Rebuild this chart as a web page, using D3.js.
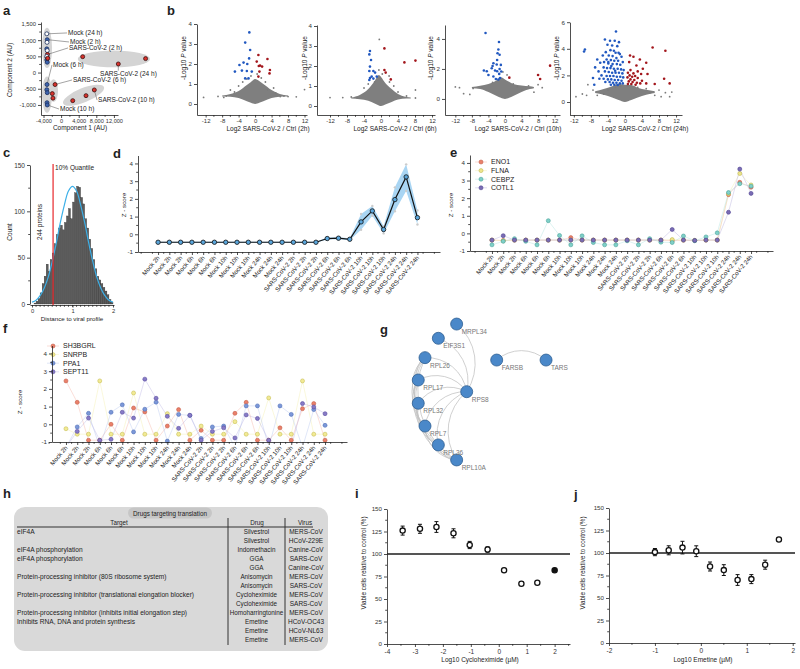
<!DOCTYPE html>
<html>
<head>
  <meta charset="utf-8">
  <style>
    body { margin: 0; background: #fff; }
    svg text { font-family: "Liberation Sans", Arial, sans-serif; fill: #222; }
    .ax path, .ax line { stroke: #222; stroke-width: 0.8; }
    .ax text { fill: #333; }
  </style>
</head>
<body>
<script src="https://cdn.jsdelivr.net/npm/d3@7"></script>
<script>
// ---------------- data ----------------
// a: PCA  [x, y, group]  group 0 = mock filled, 2 = mock open, 1 = SARS-CoV-2
const pcaPts = [
  [-3250,1195,2],[-3150,1015,0],[-3200,932,2],[-3250,731,0],[-3150,679,2],[-3200,472,0],[-3250,392,0],[-3150,318,0],
  [-3100,560,1],[-3250,500,2],[-3050,440,1],
  [-3200,-370,0],[-3250,-530,0],[-3150,-620,0],[-3200,-930,0],[-3150,-1000,0],
  [-1371,-370,1],[-2000,-650,1],[-1850,-790,1],
  [4900,490,1],[13000,265,1],[19200,430,1],
  [2640,-867,1],[5660,-713,1],[7550,-537,1]
];
// [cx, cy, rx, ry, angle]
const pcaEllipses = [
  [-3200,760,1140,620,0],[-3200,-680,1140,560,0],[-1720,-560,1020,350,0],
  [12000,420,8200,260,0],[5100,-700,5000,220,-22]
];
// [text, pointX, pointY, labelX, labelY, (leader end x, y)]
const pcaLabels = [
  ["Mock (24 h)",-3150,1195,1570,1222],
  ["Mock (2 h)",-3150,1015,2020,944],
  ["SARS-CoV-2 (2 h)",-3050,560,1800,760],
  ["SARS-CoV-2 (24 h)",13000,265,8860,-43,13000,60],
  ["Mock (6 h)",-3200,-370,-1840,235],
  ["SARS-CoV-2 (6 h)",-1371,-370,2700,-230],
  ["SARS-CoV-2 (10 h)",7550,-537,8400,-850],
  ["Mock (10 h)",-3150,-1000,-250,-1125]
];

// b: volcano plots  core = [x, lo, hi] dense region
const volTitles = ["Log2 SARS-CoV-2 / Ctrl (2h)","Log2 SARS-CoV-2 / Ctrl (6h)","Log2 SARS-CoV-2 / Ctrl (10h)","Log2 SARS-CoV-2 / Ctrl (24h)"];
const core2h = [[-8,0.38,0.42],[-6,0.36,0.5],[-4,0.3,0.65],[-2,0.14,0.95],[-1,0.06,1.1],[0,0,1.25],[1,0.06,1.15],[2,0.14,1.0],[4,0.3,0.7],[6,0.36,0.5],[8,0.38,0.42]];
const core6h = [[-7,0.38,0.42],[-5,0.34,0.55],[-3,0.26,0.85],[-1.5,0.12,1.25],[-0.5,0.03,1.55],[0,0,1.45],[1,0.07,1.15],[2.5,0.2,0.85],[4,0.32,0.6],[6,0.37,0.45],[7,0.38,0.42]];
const core10h = [[-8,0.72,0.8],[-6,0.66,0.88],[-4,0.46,1.0],[-2,0.2,1.25],[-1,0.08,1.45],[0,0,1.3],[1,0.08,1.15],[2,0.2,1.0],[4,0.46,0.9],[6,0.66,0.84],[7,0.72,0.8]];
const core24h = [[-7,0.68,0.8],[-5,0.55,0.98],[-3,0.33,1.18],[-1.5,0.15,1.38],[0,0,1.3],[1.5,0.15,1.28],[3,0.33,1.08],[5,0.55,0.92],[7,0.68,0.8]];
const gray2h = [[-12.5,0.33],[-7.6,0.33],[-6,0.7],[6.1,0.37],[8,0.37],[12,0.72],[3,0.72],[-4,0.9],[-3,1.1],[4.5,0.8],[2.5,1.1],[-5,0.6],[5,0.55],[-7,0.4],[7,0.4],[-9,0.38],[10,0.36],[1.5,1.3],[-1,1.4],[0.5,1.5],[-2,1.25]];
const gray6h = [[-0.4,3.33],[-12,0.42],[-5.7,0.42],[8.1,0.8],[8.1,0.4],[1.9,1.5],[-4,0.9],[3,1.0],[-3,1.1],[4,0.7],[6,0.5],[-7,0.45],[2,1.2],[-0.5,1.8],[0.3,1.6],[-1.5,1.2],[-9,0.42],[5,0.45]];
const gray10h = [[-7.7,0.7],[-8.5,0.3],[4.1,0.6],[5.7,0.87],[8,0.95],[-3,1.1],[3,0.8],[-5.5,0.8],[2,1.0],[-10,0.35],[7,0.45],[-12,0.8],[-11,0.75],[9,0.75],[0.5,1.6],[-0.5,1.8]];
const gray24h = [[-11.5,0.4],[-8.7,1.3],[-7.5,0.9],[-6.5,0.5],[-5,0.6],[-4,0.9],[8,0.9],[9.5,0.7],[11,0.75],[7,0.5],[6,0.7],[-9,0.5],[5,1.0],[3,1.1],[-1,1.2],[0.5,1.2],[-2.2,1.1],[8.5,0.4],[10.5,0.4],[-10,0.6]];
const blue2h = [[-1.4,3.58],[-2.4,3.07],[-1.2,2.7],[-1.45,2.28],[-2.8,2.07],[-1.9,2.0],[-4.9,1.62],[-3.2,1.67],[-2.0,1.65],[-0.8,1.62],[-2.4,1.28],[-1.6,1.28],[-3.8,1.95]];
const red2h = [[0.8,2.45],[0.4,2.12],[1.2,1.92],[0.9,1.9],[1.7,1.87],[3,2.25],[3.6,1.7],[3.5,1.53],[1.05,1.62],[0.8,1.37]];
const blue6h = [[-2.6,2.75],[-2.75,2.58],[-2.35,2.3],[-2.6,1.97],[-2.75,1.75],[-1.8,1.75],[-1.4,1.67],[-2.2,1.47],[-2.6,1.4],[-1.8,1.37],[-1.0,1.47],[-2.75,1.3]];
const red6h = [[0.8,2.88],[5.5,2.18],[8.1,2.27],[0.8,1.8],[1.1,1.67],[2.3,1.33]];
const blue10h = [[-4.7,4.4],[-1.45,3.8],[-1.8,3.05],[-1.3,2.95],[-2.8,2.38],[-2,2.3],[-1,2.27],[-3.2,2.05],[-5.1,1.9],[-4.4,1.85],[-4,1.6],[-2.4,1.9],[-1.9,1.85],[-1.4,1.67],[-2.8,1.5],[-1.2,1.4],[-2.2,1.33],[-1.6,1.3],[-1.3,2.0],[-0.9,1.83],[-3,2.2],[-1.9,2.6],[-1.6,3.3]];
const red10h = [[1.05,1.42],[8,1.6],[8.5,1.33],[10.9,2.22]];
const blue24h = [[-2.1,5.3],[-4.7,4.7],[-3.5,4.6],[-2.4,4.6],[-1.4,4.5],[-4.1,4.3],[-3.0,4.25],[-1.8,4.2],[-9.4,3.95],[-9.6,3.8],[-2.6,3.85],[-3.4,3.9],[-4.5,3.75],[-2.2,3.7],[-1.2,3.6],[-5.2,3.5],[-3.8,3.5],[-2.9,3.45],[-0.8,3.4],[-6.5,3.2],[-4.3,3.2],[-3.3,3.15],[-2.5,3.1],[-1.6,3.1],[-0.5,3.0],[-5.8,2.95],[-3.9,2.9],[-2.9,2.85],[-1.9,2.85],[-1.1,2.8],[-7.0,2.6],[-5.0,2.6],[-4.2,2.55],[-3.4,2.55],[-2.6,2.5],[-1.7,2.5],[-0.9,2.45],[-0.3,2.4],[-6.2,2.3],[-4.7,2.3],[-3.8,2.25],[-3.0,2.2],[-2.2,2.2],[-1.4,2.2],[-0.6,2.15],[-5.5,2.0],[-4.3,1.95],[-3.5,1.95],[-2.7,1.95],[-1.9,1.9],[-1.1,1.9],[-0.4,1.85],[-7.5,1.8],[-6.0,1.75],[-5.0,1.75],[-4.0,1.7],[-3.2,1.7],[-2.4,1.65],[-1.6,1.65],[-0.8,1.6],[-4.6,1.5],[-3.6,1.5],[-2.8,1.45],[-2.0,1.45],[-1.2,1.4],[-0.5,1.4],[-7.2,1.3],[-3.3,1.3],[-2.5,1.3],[-1.7,1.28],[-3.9,3.0],[-2.0,3.3],[-3.2,2.7],[-2.3,2.35],[-4.9,3.0],[-1.5,3.7]];
const red24h = [[6.5,4.1],[9.5,3.85],[1.2,3.5],[2.0,3.4],[3.5,3.2],[1.0,3.0],[5.0,2.95],[2.7,2.75],[4.2,2.5],[1.3,2.4],[3.0,2.3],[0.7,2.2],[2.0,2.15],[3.8,2.1],[5.3,2.1],[1.1,2.0],[2.4,1.95],[1.7,1.9],[0.6,1.85],[3.0,1.8],[9.2,1.75],[1.3,1.7],[2.2,1.65],[4.0,1.6],[0.9,1.55],[1.8,1.5],[2.8,1.45],[3.6,1.4],[10.5,1.4],[7.0,1.35],[0.7,1.35],[1.5,1.35],[5.0,1.4],[2.5,1.3]];

// c: histogram (bin start, count), bin width 0.05, and fitted curve
const histBins = [0,0.05,0.1,0.15,0.2,0.25,0.3,0.35,0.4,0.45,0.5,0.55,0.6,0.65,0.7,0.75,0.8,0.85,0.9,0.95,1.0,1.05,1.1,1.15,1.2,1.25,1.3,1.35,1.4,1.45,1.5,1.55,1.6,1.65,1.7,1.75,1.8,1.85,1.9,1.95];
const histCounts = [0,1,3,6,12,22,30,43,35,48,55,65,75,82,85,80,88,95,103,92,110,120,127,126,115,108,92,82,70,60,48,38,30,26,22,18,14,10,5,2];
const fitX = [0,0.1,0.2,0.3,0.4,0.5,0.6,0.7,0.8,0.9,1.0,1.1,1.2,1.3,1.4,1.5,1.6,1.7,1.8,1.9,2.0];
const fitY = [2,4,9,17,29,46,66,88,107,122,127,122,107,88,66,46,29,17,9,4,2];
const quantileX = 0.52;

// d/e/f: conditions
const conditions = ["Mock 2h","Mock 2h","Mock 2h","Mock 6h","Mock 6h","Mock 6h","Mock 10h","Mock 10h","Mock 10h","Mock 24h","Mock 24h","Mock 24h",
  "SARS-CoV-2 2h","SARS-CoV-2 2h","SARS-CoV-2 2h","SARS-CoV-2 6h","SARS-CoV-2 6h","SARS-CoV-2 6h","SARS-CoV-2 10h","SARS-CoV-2 10h","SARS-CoV-2 10h","SARS-CoV-2 24h","SARS-CoV-2 24h","SARS-CoV-2 24h"];
const dMean = [-0.45,-0.45,-0.45,-0.45,-0.45,-0.45,-0.45,-0.45,-0.45,-0.45,-0.45,-0.45,-0.45,-0.45,-0.45,-0.24,-0.22,-0.28,0.7,1.32,0.27,1.96,3.24,0.94];
const dLo = [-0.48,-0.48,-0.48,-0.48,-0.48,-0.48,-0.48,-0.48,-0.48,-0.48,-0.48,-0.48,-0.48,-0.48,-0.48,-0.3,-0.28,-0.34,0.25,1.05,0.05,1.3,2.45,0.55];
const dHi = [-0.42,-0.42,-0.42,-0.42,-0.42,-0.42,-0.42,-0.42,-0.42,-0.42,-0.42,-0.42,-0.42,-0.42,-0.42,-0.18,-0.16,-0.22,1.15,1.6,0.45,2.65,3.95,1.35];

const eNames = ["ENO1","FLNA","CEBPZ","COTL1"];
const eENO1 = [-0.38,-0.4,-0.38,-0.38,-0.38,-0.38,-0.38,-0.24,-0.38,-0.38,-0.38,-0.38,-0.38,-0.38,-0.38,-0.38,-0.42,-0.38,-0.4,-0.38,-0.38,2.2,2.9,2.62];
const eFLNA = [-0.38,-0.42,-0.38,-0.38,-0.38,-0.38,-0.38,-0.38,-0.38,-0.38,-0.38,-0.38,-0.38,-0.38,-0.38,-0.38,-0.35,-0.38,-0.4,-0.38,-0.38,2.25,3.4,2.75];
const eCEBPZ = [-0.65,-0.45,-0.3,-0.45,-0.65,0.72,-0.12,-0.65,-0.14,-0.52,-0.65,-0.65,-0.42,-0.65,-0.3,-0.5,-0.52,-0.15,-0.42,-0.2,0.03,2.32,2.82,2.68];
const eCOTL1 = [-0.38,-0.13,-0.38,-0.38,-0.38,-0.38,-0.38,-0.38,-0.38,-0.38,-0.38,-0.38,-0.38,-0.38,-0.38,-0.38,0.22,-0.38,-0.4,-0.38,-0.38,1.2,3.65,2.27];

const fNames = ["SH3BGRL","SNRPB","PPA1","SEPT11"];
const fSH3BGRL = [2.45,1.24,-0.9,-0.9,0.0,-0.9,0.92,0.7,-0.9,-0.1,0.83,-0.9,-0.34,-0.9,-0.9,0.62,1.24,-0.9,-0.9,-0.2,-0.9,0.88,1.17,-0.9];
const fSNRPB = [-0.25,-0.56,-0.56,2.45,-0.56,-0.56,1.77,-0.56,-0.56,0.6,-0.56,-0.56,-0.1,-0.56,-0.56,0.15,-0.56,-0.56,1.49,-0.56,-0.56,2.45,-0.56,-0.56];
const fPPA1 = [-1.3,-0.15,0.62,-1.3,0.68,1.1,-0.43,0.85,1.25,-0.95,0.56,0.5,-0.8,-0.15,-0.1,-1.3,1.04,1.04,-1.3,1.04,0.56,-1.3,0.83,-0.06];
const fSEPT11 = [-1.3,-0.4,0.35,-0.9,-0.85,0.68,0.35,2.55,1.47,0.45,-0.23,0.51,-0.9,-0.4,-0.2,-0.77,0.53,0.33,-0.9,-1.3,-1.3,1.17,0.98,0.6];

// g: network (layout coordinates 0..1)
const netNodes = ["MRPL34","EIF3S1","RPL26","RPL17","RPL32","RPL7","RPL36","RPL10A","RPS8","FARSB","TARS"];
const netX = [0.311,0.189,0.1,0.055,0.055,0.1,0.189,0.311,0.378,0.578,0.907];
const netY = [0.027,0.122,0.251,0.4,0.555,0.707,0.833,0.933,0.478,0.267,0.267];
const netEdges = [
  ["MRPL34","RPS8"],["EIF3S1","RPS8"],["RPL26","RPS8"],["RPL17","RPS8"],["RPL32","RPS8"],["RPL7","RPS8"],["RPL36","RPS8"],["RPL10A","RPS8"],
  ["RPL26","RPL17"],["RPL26","RPL32"],["RPL26","RPL7"],["RPL26","RPL36"],["RPL26","RPL10A"],
  ["RPL17","RPL32"],["RPL17","RPL7"],["RPL17","RPL36"],["RPL17","RPL10A"],
  ["RPL32","RPL7"],["RPL32","RPL36"],["RPL32","RPL10A"],
  ["RPL7","RPL36"],["RPL7","RPL10A"],["RPL36","RPL10A"],
  ["FARSB","TARS"]
];

// h: table
const tblTarget = ["eIF4A","","eIF4A phosphorylation","eIF4A phosphorylation","","Protein-processing inhibitor (80S ribosome system)","",
  "Protein-processing inhibitor  (translational elongation blocker)","","Protein-processing inhibitor (inhibits initial elongation step)",
  "Inhibits RNA, DNA and protein synthesis","",""];
const tblDrug = ["Silvestrol","Silvestrol","Indomethacin","GGA","GGA","Anisomycin","Anisomycin","Cycloheximide","Cycloheximide","Homoharringtonine","Emetine","Emetine","Emetine"];
const tblVirus = ["MERS-CoV","HCoV-229E","Canine-CoV","SARS-CoV","Canine-CoV","MERS-CoV","SARS-CoV","MERS-CoV","SARS-CoV","MERS-CoV","HCoV-OC43","HCoV-NL63","MERS-CoV"];

// i, j: dose response
const chxDose = [-3.44,-2.82,-2.23,-1.62,-1.04,-0.4,0.19,0.81,1.38,2.0];
const chxVia = [126,128,130,123,110,105,82,67,68,82];
const chxErr = [5,5,6,5,4,3,2,2,1,0];
const emeDose = [-1.0,-0.7,-0.4,-0.1,0.2,0.5,0.8,1.1,1.4,1.7];
const emeVia = [101,103,106,102,85,81,70,71,87,115];
const emeErr = [4,5,7,6,5,6,6,5,5,2];

// ---------------- helpers ----------------
const svg = d3.select("body").append("svg").attr("width", 800).attr("height", 669);
const minus = d => (d < 0 ? "-" : "") + Math.abs(d);
const commaMinus = d => (d < 0 ? "-" : "") + d3.format(",")(Math.abs(d));

function letter(t, x, y) {
  svg.append("text").attr("x", x).attr("y", y).attr("font-size", 13).attr("font-weight", "bold").text(t);
}
function drawAxis(orient, scale, at, o) {
  const ax = (orient === "left" ? d3.axisLeft(scale) : d3.axisBottom(scale))
    .tickValues(o.ticks).tickFormat(o.fmt || minus).tickSize(o.size || 3).tickSizeOuter(0)
    .tickPadding(o.pad == null ? 2 : o.pad);
  const a = svg.append("g").attr("class", "ax")
    .attr("transform", orient === "left" ? `translate(${at},0)` : `translate(0,${at})`).call(ax);
  a.selectAll("text").attr("font-size", o.fs || 6.5);
  if (o.minor) {
    const m = a.selectAll(".minor").data(o.minor).join("line").attr("class", "minor");
    if (orient === "left") m.attr("x2", -(o.msize || 1.8)).attr("y1", d => scale(d)).attr("y2", d => scale(d));
    else m.attr("y2", o.msize || 1.8).attr("x1", d => scale(d)).attr("x2", d => scale(d));
  }
  return a;
}
function vTitle(text, x, y, fs) {
  return svg.append("text").attr("transform", `translate(${x},${y}) rotate(-90)`)
    .attr("text-anchor", "middle").attr("font-size", fs || 6.5).text(text);
}
function hTitle(text, x, y, fs) {
  return svg.append("text").attr("x", x).attr("y", y).attr("text-anchor", "middle").attr("font-size", fs || 6.5).text(text);
}

// ---------------- a: PCA ----------------
letter("a", 3, 15);
{
  const x = d3.scaleLinear().domain([-4570, 12930]).range([41, 118]);
  const y = d3.scaleLinear().domain([-1310, 1560]).range([115, 22]);
  const g = svg.append("g");
  g.selectAll("ellipse").data(pcaEllipses).join("ellipse")
    .attr("cx", d => x(d[0])).attr("cy", d => y(d[1]))
    .attr("rx", d => x(d[0] + d[2]) - x(d[0])).attr("ry", d => y(d[1] - d[3]) - y(d[1]))
    .attr("transform", d => `rotate(${d[4]},${x(d[0])},${y(d[1])})`)
    .attr("fill", "#d4d4d4");
  g.selectAll("line.lead").data(pcaLabels).join("line").attr("class", "lead")
    .attr("x1", d => x(d[1])).attr("y1", d => y(d[2]))
    .attr("x2", d => d.length > 5 ? x(d[5]) : x(d[3]) - 1).attr("y2", d => d.length > 5 ? y(d[6]) : y(d[4]))
    .attr("stroke", "#666").attr("stroke-width", 0.6);
  g.selectAll("circle").data(pcaPts).join("circle")
    .attr("cx", d => x(d[0])).attr("cy", d => y(d[1])).attr("r", 2)
    .attr("fill", d => d[2] === 1 ? "#d8322c" : d[2] === 2 ? "#fff" : "#3d63ad")
    .attr("stroke", d => d[2] === 1 ? "#3a1010" : "#1b2f5c").attr("stroke-width", 0.8);
  g.selectAll("text").data(pcaLabels).join("text")
    .attr("x", d => x(d[3])).attr("y", d => y(d[4])).attr("dy", "0.35em")
    .attr("font-size", 6.5).text(d => d[0]);
  drawAxis("bottom", x, 115, { ticks: [-4000, 0, 4000, 8000, 12000], fmt: commaMinus, fs: 5.6, pad: 1.5, minor: [-2000, 2000, 6000, 10000] });
  drawAxis("left", y, 41, { ticks: [-1000, -500, 0, 500, 1000, 1500], fmt: commaMinus, fs: 5.8, minor: [-750, -250, 250, 750, 1250] });
  vTitle("Component 2 (AU)", 12, 70);
  hTitle("Component 1 (AU)", 80, 130);
}

// ---------------- b: volcano ----------------
letter("b", 167, 15);
{
  const cores = [core2h, core6h, core10h, core24h];
  const grays = [gray2h, gray6h, gray10h, gray24h];
  const blues = [blue2h, blue6h, blue10h, blue24h];
  const reds = [red2h, red6h, red10h, red24h];
  const lay = [
    { x: [-14.1, 12.6], xr: [197, 307], y: [-0.55, 4], yr: [115, 24], yt: [0, 1, 2, 3, 4], tx: 268, ty: 186 },
    { x: [-15.06, 12.7], xr: [317, 435], y: [-0.45, 4.05], yr: [115, 25], yt: [0, 1, 2, 3, 4], tx: 395, ty: 307 },
    { x: [-14.5, 13.3], xr: [445, 560], y: [-1.07, 4.93], yr: [115, 25], yt: [0, 2, 4], tx: 518, ty: 433 },
    { x: [-12.9, 13.4], xr: [570, 682], y: [-1, 6], yr: [115.3, 22.2], yt: [0, 2, 4, 6], tx: 645, ty: 559 }
  ];
  lay.forEach((L, i) => {
    const x = d3.scaleLinear().domain(L.x).range(L.xr);
    const y = d3.scaleLinear().domain(L.y).range(L.yr);
    const g = svg.append("g");
    g.append("path").datum(cores[i])
      .attr("d", d3.area().x(d => x(d[0])).y0(d => y(d[1])).y1(d => y(d[2])).curve(d3.curveMonotoneX))
      .attr("fill", "#7f7f7f");
    g.selectAll("circle.gr").data(grays[i]).join("circle").attr("class", "gr")
      .attr("cx", d => x(d[0])).attr("cy", d => y(d[1])).attr("r", 0.9).attr("fill", "#7b7b7b");
    g.selectAll("circle.bl").data(blues[i]).join("circle").attr("class", "bl")
      .attr("cx", d => x(d[0])).attr("cy", d => y(d[1])).attr("r", 1.3).attr("fill", "#2158c0");
    g.selectAll("circle.rd").data(reds[i]).join("circle").attr("class", "rd")
      .attr("cx", d => x(d[0])).attr("cy", d => y(d[1])).attr("r", 1.3).attr("fill", "#a3161c");
    drawAxis("bottom", x, 115, { ticks: [-12, -8, -4, 0, 4, 8, 12], fs: 6, size: 2.5, pad: 1, minor: [-10, -6, -2, 2, 6, 10] });
    drawAxis("left", y, L.xr[0], { ticks: L.yt, fs: 6.2 });
    hTitle(volTitles[i], L.tx, 131);
    const t = vTitle("", L.ty, 58);
    t.append("tspan").text("-Log10 ");
    t.append("tspan").attr("font-style", "italic").text("P");
    t.append("tspan").text(" value");
  });
}

// ---------------- c: histogram ----------------
letter("c", 3, 157);
{
  const x = d3.scaleLinear().domain([-0.05, 2.025]).range([30, 114]);
  const y = d3.scaleLinear().domain([0, 150]).range([304, 165]);
  svg.append("g").selectAll("rect").data(histBins).join("rect")
    .attr("x", d => x(d)).attr("width", x(0.05) - x(0))
    .attr("y", (d, i) => y(histCounts[i])).attr("height", (d, i) => y(0) - y(histCounts[i]))
    .attr("fill", "#5c5c5c").attr("stroke", "#2a2a2a").attr("stroke-width", 0.3);
  svg.append("path").datum(fitX)
    .attr("d", d3.line().x(d => x(d)).y((d, i) => y(fitY[i])).curve(d3.curveCatmullRom))
    .attr("fill", "none").attr("stroke", "#3cb0e8").attr("stroke-width", 1.2);
  svg.append("line").attr("x1", x(quantileX)).attr("x2", x(quantileX)).attr("y1", 164).attr("y2", 305)
    .attr("stroke", "#e8262a").attr("stroke-width", 1.2);
  svg.append("text").attr("x", x(quantileX) + 2).attr("y", 170).attr("font-size", 6.5).text("10% Quantile");
  vTitle("244 proteins", 42, 222);
  drawAxis("bottom", x, 305, { ticks: [0, 1, 2], fs: 5.8, pad: 1, size: 2.5, minor: d3.range(0.1, 2, 0.1) });
  drawAxis("left", y, 30, { ticks: [0, 50, 100, 150], minor: [25, 75, 125] });
  vTitle("Count", 12, 232);
  hTitle("Distance to viral profile", 72, 320.5, 6.2);
}

// shared category axis
function catAxis(x, yScale, axisY, yAxisX) {
  const idx = d3.range(conditions.length);
  drawAxis("bottom", x, axisY, { ticks: idx, fmt: () => "", minor: d3.range(Math.ceil(x.domain()[0]) - 0.5, x.domain()[1], 1) });
  svg.append("g").selectAll("text").data(conditions).join("text")
    .attr("transform", (d, i) => `translate(${x(i) + 2},${axisY + 6}) rotate(-50)`)
    .attr("text-anchor", "end").attr("font-size", 6.2).attr("fill", "#333").text(d => d);
  drawAxis("left", yScale, yAxisX, { ticks: [-1, 0, 1, 2, 3, 4], fs: 6.2, minor: [-0.5, 0.5, 1.5, 2.5, 3.5] });
}

// ---------------- d ----------------
letter("d", 113, 158);
{
  const x = d3.scaleLinear().domain([-1.78, 25]).range([138, 440]);
  const y = d3.scaleLinear().domain([-1, 4.45]).range([252, 155.5]);
  const idx = d3.range(conditions.length);
  svg.append("path").datum(idx)
    .attr("d", d3.area().x(i => x(i)).y0(i => y(dLo[i])).y1(i => y(dHi[i])))
    .attr("fill", "#a9d5f3");
  svg.append("g").selectAll("circle").data(idx.filter(i => i > 14)).join("circle")
    .attr("cx", i => x(i)).attr("cy", i => y(dLo[i])).attr("r", 1.2).attr("fill", "#ccc");
  svg.append("g").selectAll("circle").data(idx.filter(i => i > 14)).join("circle")
    .attr("cx", i => x(i)).attr("cy", i => y(dHi[i])).attr("r", 1.2).attr("fill", "#ccc");
  svg.append("path").datum(idx)
    .attr("d", d3.line().x(i => x(i)).y(i => y(dMean[i])))
    .attr("fill", "none").attr("stroke", "#111").attr("stroke-width", 1.2);
  svg.append("g").selectAll("circle").data(idx).join("circle")
    .attr("cx", i => x(i)).attr("cy", i => y(dMean[i])).attr("r", 2.2)
    .attr("fill", "#5aa6dc").attr("stroke", "#111").attr("stroke-width", 0.8);
  catAxis(x, y, 252, 138);
  vTitle("Z - score", 126, 205, 6.2);
}

// profile chart (e, f)
function profile(x, y, series, names, fills, strokes, lineCol, legX, legY, clipId) {
  const idx = d3.range(conditions.length);
  svg.append("clipPath").attr("id", clipId).append("rect")
    .attr("x", x.range()[0]).attr("y", y.range()[1] - 5)
    .attr("width", x.range()[1] - x.range()[0]).attr("height", y.range()[0] - y.range()[1] + 7);
  const g = svg.append("g").attr("clip-path", `url(#${clipId})`);
  series.forEach((s, k) => {
    g.append("path").datum(idx).attr("d", d3.line().x(i => x(i)).y(i => y(s[i])))
      .attr("fill", "none").attr("stroke", lineCol[k]).attr("stroke-width", 0.8).attr("opacity", 0.45);
  });
  series.forEach((s, k) => {
    g.append("g").selectAll("circle").data(idx.filter(i => s[i] >= -1)).join("circle")
      .attr("cx", i => x(i)).attr("cy", i => y(s[i])).attr("r", 2)
      .attr("fill", fills[k]).attr("stroke", strokes[k]).attr("stroke-width", 0.6);
  });
  const lg = svg.append("g");
  names.forEach((n, k) => {
    const yy = legY + k * 8.6;
    lg.append("line").attr("x1", legX - 6).attr("x2", legX + 6).attr("y1", yy).attr("y2", yy)
      .attr("stroke", lineCol[k]).attr("opacity", 0.45).attr("stroke-width", 0.8);
    lg.append("circle").attr("cx", legX).attr("cy", yy).attr("r", 2)
      .attr("fill", fills[k]).attr("stroke", strokes[k]).attr("stroke-width", 0.6);
    lg.append("text").attr("x", legX + 10).attr("y", yy).attr("dy", "0.35em").attr("font-size", 7).text(n);
  });
}

// ---------------- e ----------------
letter("e", 450, 157);
{
  const x = d3.scaleLinear().domain([-1.95, 24.95]).range([470, 773]);
  const y = d3.scaleLinear().domain([-1, 4.45]).range([251, 155]);
  profile(x, y, [eENO1, eFLNA, eCEBPZ, eCOTL1], eNames,
    ["#ea806a", "#eee58c", "#7fd0c8", "#7a6cb4"], ["#c5604c", "#c0b850", "#4aa39a", "#4e4290"],
    ["#f3a595", "#efe9a0", "#9fded8", "#a89fd6"], 481, 162, "clipE");
  catAxis(x, y, 251, 470);
  vTitle("Z - score", 453, 205, 6.2);
}

// ---------------- f ----------------
letter("f", 3, 333);
{
  const x = d3.scaleLinear().domain([-1.24, 24.95]).range([52, 347]);
  const y = d3.scaleLinear().domain([-1, 4.45]).range([442, 345.5]);
  profile(x, y, [fSH3BGRL, fSNRPB, fPPA1, fSEPT11], fNames,
    ["#ea806a", "#f2ea94", "#7c98d8", "#877bc6"], ["#c5604c", "#c8bf58", "#4f6fb8", "#5b4ea0"],
    ["#f3a595", "#f2ec9c", "#a9bdea", "#b0a8e0"], 53, 346, "clipF");
  catAxis(x, y, 442, 52);
  vTitle("Z - score", 22, 402, 6.2);
}

// ---------------- g: network ----------------
letter("g", 380, 334);
{
  const x = d3.scaleLinear().domain([0, 1]).range([410, 560]);
  const y = d3.scaleLinear().domain([0, 1]).range([320, 470]);
  const pos = {};
  netNodes.forEach((n, i) => pos[n] = [x(netX[i]), y(netY[i])]);
  svg.append("g").selectAll("path").data(netEdges).join("path")
    .attr("d", e => {
      const [x1, y1] = pos[e[0]], [x2, y2] = pos[e[1]];
      const r = Math.hypot(x2 - x1, y2 - y1) * 0.75;
      const sweep = e[1] === "RPS8" || e[1] === "TARS" ? 1 : 0;
      return `M${x1},${y1}A${r},${r} 0 0 ${sweep} ${x2},${y2}`;
    })
    .attr("fill", "none").attr("stroke", "#c4c4c4").attr("stroke-width", 0.8);
  svg.append("g").selectAll("circle").data(netNodes).join("circle")
    .attr("cx", n => pos[n][0]).attr("cy", n => pos[n][1]).attr("r", 6)
    .attr("fill", "#4a88c9").attr("stroke", "#2d5e92").attr("stroke-width", 0.8);
  svg.append("g").selectAll("text").data(netNodes).join("text")
    .attr("x", n => pos[n][0] + 5).attr("y", n => pos[n][1] + 10)
    .attr("font-size", 6.5).style("fill", "#777").text(n => n);
}

// ---------------- h: table ----------------
letter("h", 3, 498);
{
  const rowY = d3.scaleLinear().domain([0, 12]).range([532, 640]);
  svg.append("rect").attr("x", 14).attr("y", 507).attr("width", 314).attr("height", 144).attr("rx", 11)
    .attr("fill", "#d9d9d9");
  svg.append("rect").attr("x", 128).attr("y", 507.5).attr("width", 84).attr("height", 11).attr("rx", 5.5)
    .attr("fill", "#c6c6c6");
  hTitle("Drugs targeting translation", 170, 515.5, 6.3);
  hTitle("Target", 119, 525, 6.3);
  hTitle("Drug", 257, 525, 6.3);
  hTitle("Virus", 305, 525, 6.3);
  svg.append("line").attr("x1", 17).attr("x2", 313).attr("y1", 527).attr("y2", 527).attr("stroke", "#333").attr("stroke-width", 1.2);
  [228, 285].forEach(vx => svg.append("line").attr("x1", vx).attr("x2", vx).attr("y1", 518).attr("y2", 645)
    .attr("stroke", "#333").attr("stroke-width", 1));
  const tg = svg.append("g");
  tg.selectAll("text.t").data(tblTarget).join("text").attr("class", "t")
    .attr("x", 17).attr("y", (d, i) => rowY(i)).attr("dy", "0.35em").attr("font-size", 6.6).text(d => d);
  tg.selectAll("text.d").data(tblDrug).join("text").attr("class", "d")
    .attr("x", 256.5).attr("y", (d, i) => rowY(i)).attr("dy", "0.35em").attr("text-anchor", "middle").attr("font-size", 6.3).text(d => d);
  tg.selectAll("text.v").data(tblVirus).join("text").attr("class", "v")
    .attr("x", 306).attr("y", (d, i) => rowY(i)).attr("dy", "0.35em").attr("text-anchor", "middle").attr("font-size", 6.5).text(d => d);
}

// ---------------- i, j: dose response ----------------
function doseChart(L, dose, via, err, filledLast) {
  const x = d3.scaleLinear().domain(L.x).range(L.xr);
  const y = d3.scaleLinear().domain([0, 150]).range(L.yr);
  svg.append("line").attr("x1", L.xr[0]).attr("x2", L.xr[1]).attr("y1", y(100)).attr("y2", y(100))
    .attr("stroke", "#555").attr("stroke-width", 1.8);
  const g = svg.append("g");
  const pts = d3.range(dose.length);
  g.selectAll("line.e").data(pts).join("line").attr("class", "e")
    .attr("x1", i => x(dose[i])).attr("x2", i => x(dose[i]))
    .attr("y1", i => y(via[i] - err[i])).attr("y2", i => y(via[i] + err[i]))
    .attr("stroke", "#111").attr("stroke-width", 1);
  [-1, 1].forEach(s => g.selectAll("line.c" + s).data(pts.filter(i => err[i] > 0)).join("line").attr("class", "c" + s)
    .attr("x1", i => x(dose[i]) - 2).attr("x2", i => x(dose[i]) + 2)
    .attr("y1", i => y(via[i] + s * err[i])).attr("y2", i => y(via[i] + s * err[i]))
    .attr("stroke", "#111").attr("stroke-width", 1));
  g.selectAll("circle").data(pts).join("circle")
    .attr("cx", i => x(dose[i])).attr("cy", i => y(via[i])).attr("r", 2.6)
    .attr("fill", i => filledLast && i === dose.length - 1 ? "#111" : "#fff")
    .attr("stroke", "#111").attr("stroke-width", 1.3);
  drawAxis("bottom", x, L.yr[0], { ticks: L.xt, minor: L.xm, size: 3 });
  drawAxis("left", y, L.xr[0], { ticks: [0, 25, 50, 75, 100, 125, 150], fs: 6.2, minor: [12.5, 37.5, 62.5, 87.5, 112.5, 137.5] });
  hTitle(L.title, L.tx, 662, 6.5);
  vTitle("Viable cells relative to control (%)", L.ty, 563, 6.3);
}
letter("i", 355, 498);
doseChart({ x: [-4, 2.55], xr: [387, 570], yr: [644, 509], xt: [-4, -3, -2, -1, 0, 1, 2],
  xm: [-3.5, -2.5, -1.5, -0.5, 0.5, 1.5, 2.5], title: "Log10 Cycloheximide (\u00b5M)", tx: 480, ty: 366 },
  chxDose, chxVia, chxErr, true);
letter("j", 574, 499);
doseChart({ x: [-2, 2.05], xr: [609, 795], yr: [643, 508], xt: [-2, -1, 0, 1, 2],
  xm: [-1.5, -0.5, 0.5, 1.5], title: "Log10 Emetine (\u00b5M)", tx: 703, ty: 585 },
  emeDose, emeVia, emeErr, false);
</script>
</body>
</html>
